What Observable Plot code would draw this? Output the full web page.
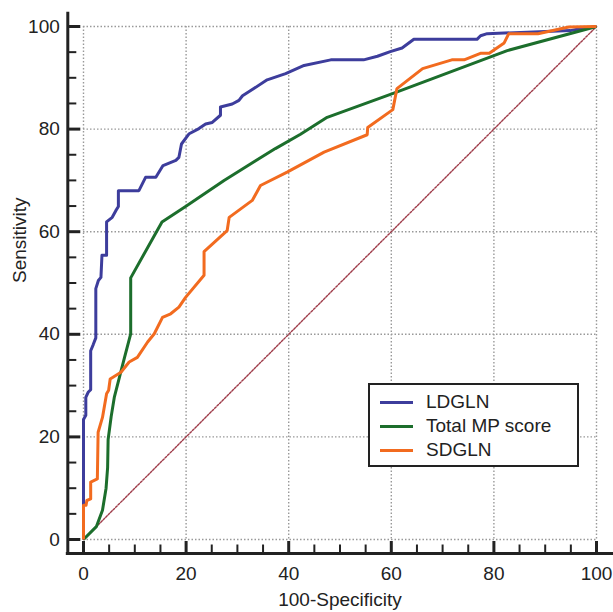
<!DOCTYPE html>
<html>
<head>
<meta charset="utf-8">
<script src="https://cdn.jsdelivr.net/npm/d3@7"></script>
<script src="https://cdn.jsdelivr.net/npm/@observablehq/plot@0.6"></script>
<style>
  html, body { margin: 0; padding: 0; background: #fff; }
  #wrap { position: relative; width: 613px; height: 612px; font-family: "Liberation Sans", Arial, sans-serif; color: #222; }
  #legend { position: absolute; left: 368px; top: 383px; width: 211px; height: 84px; box-sizing: border-box; border: 2px solid #222; background: #fff; }
  .row { position: absolute; left: 0; height: 24px; line-height: 24px; font-size: 19px; white-space: nowrap; }
  .sw { position: absolute; left: 10px; top: 10.5px; width: 33px; height: 3px; }
  .lbl { position: absolute; left: 56px; top: 0; }
</style>
</head>
<body>
<div id="wrap"><div id="chart"></div><div id="legend"></div></div>
<script>
// ---- data ----
const seriesNames = ["LDGLN", "Total MP score", "SDGLN"];
const seriesColors = ["#3d3d9c", "#1c6e2c", "#f26b1f"];

const ldglnX = [0,0,0,0.45,0.45,0.9,1.4,1.4,1.9,2.4,2.4,2.9,3.4,3.6,4.5,4.5,5.6,6.3,6.8,6.8,10.8,12.1,14.1,15.5,18,18.6,19.1,20.6,22.5,23.8,25.1,26.7,26.7,29,30.3,31,33.2,35.8,39.4,43,48.2,54.6,57.3,59.8,62.1,64.4,76.7,77.4,78.7,86.5,94.9,97,100];
const ldglnY = [0,7,23.4,24.2,27.7,28.7,29.2,36.8,38,39.3,48.9,50.5,51.1,55.4,55.4,61.9,62.8,64.1,64.9,68,68,70.6,70.6,72.9,73.9,74.5,77.1,79.1,80.1,81,81.3,82.7,84.3,84.9,85.6,86.5,87.9,89.6,90.8,92.4,93.5,93.5,94.2,95.1,95.8,97.5,97.5,98.2,98.6,98.9,99.2,99.6,100];

const totalX = [0,2.5,3.7,4.4,4.7,4.8,5.4,6,7,8,9.2,9.2,15.3,19.9,27.4,37.4,42.3,47.5,60.5,82.6,100];
const totalY = [0,2.5,5.7,10,14,19.5,24,27.7,31.6,35.5,40.1,51,61.9,64.9,70,76.2,79,82.3,87,95.3,100];

const sdglnX = [0,0,0.5,0.65,1.4,1.4,2.7,2.85,3.7,4.5,4.9,5.2,7.3,8.9,10.5,12.5,13.8,15.4,17,18.6,19.9,23.5,23.5,28,28.4,32.9,34.5,39.7,46.9,55.3,55.4,60.3,61.1,66.1,71.8,74.2,77.5,79.1,82,82.9,88.6,94.6,100];
const sdglnY = [0,6.7,6.7,7.6,7.9,11.2,11.8,20.9,23.8,28.4,29.1,31.3,32.6,34.6,35.5,38.5,40.1,43.3,44,45.3,47.2,51.5,56.1,60.2,62.8,66.1,69,71.6,75.5,78.9,80.3,83.8,87.9,91.8,93.5,93.5,94.8,94.8,96.8,98.6,98.6,99.9,100];

const diagonal = [0, 100];
const majorTicks = [0, 20, 40, 60, 80, 100];
const minorTicks = [5,10,15,25,30,35,45,50,55,65,70,75,85,90,95];
const xLabel = "100-Specificity";
const yLabel = "Sensitivity";

// ---- build rows ----
const toRows = (xs, ys, name) => xs.map((x, i) => ({x, y: ys[i], name}));
const rows = [
  ...toRows(ldglnX, ldglnY, seriesNames[0]),
  ...toRows(totalX, totalY, seriesNames[1]),
  ...toRows(sdglnX, sdglnY, seriesNames[2])
];
const color = Object.fromEntries(seriesNames.map((n, i) => [n, seriesColors[i]]));

const gridStyle = {stroke: "#999", strokeWidth: 1.4, strokeDasharray: "1.5,2"};

const chart = Plot.plot({
  width: 613,
  height: 612,
  marginLeft: 83,
  marginRight: 17,
  marginTop: 26,
  marginBottom: 73,
  style: {fontFamily: "Liberation Sans, Arial, sans-serif", fontSize: "19px", color: "#222", background: "transparent"},
  x: {domain: [0, 100], axis: null},
  y: {domain: [0, 100], axis: null},
  marks: [
    Plot.ruleX(majorTicks, gridStyle),
    Plot.ruleY(majorTicks, gridStyle),
    // diagonal reference
    Plot.line(diagonal.map(d => ({x: d, y: d})), {x: "x", y: "y", stroke: "#9e3a48", strokeWidth: 1.4, strokeDasharray: "2,1.5"}),
    // ROC curves
    ...seriesNames.map(n => Plot.line(rows.filter(r => r.name === n), {x: "x", y: "y", stroke: color[n], strokeWidth: 3, strokeLinejoin: "round", strokeLinecap: "butt"})),
    // axis lines (offset from plot area)
    Plot.ruleX([0], {y1: -3, y2: 102.8, dx: -15.7, stroke: "#222", strokeWidth: 3}),
    Plot.ruleY([0], {x1: -3.35, x2: 103.5, dy: 14, stroke: "#222", strokeWidth: 3}),
    // y axis ticks
    Plot.axisY(majorTicks, {anchor: "left", tickSize: 13, dx: -2.7, tickPadding: 8, strokeWidth: 3, label: null}),
    Plot.axisY(minorTicks, {anchor: "left", tickSize: 9, dx: -6.7, text: null, strokeWidth: 2, label: null}),
    // x axis ticks
    Plot.axisX(majorTicks, {anchor: "bottom", tickSize: 12, dy: 2, tickPadding: 13, strokeWidth: 3, label: null}),
    Plot.axisX(minorTicks, {anchor: "bottom", tickSize: 7.5, dy: 5.5, text: null, strokeWidth: 2, label: null}),
    // axis titles
    Plot.text([xLabel], {frameAnchor: "bottom", text: d => d, dy: 66, lineAnchor: "bottom", fill: "#222"}),
    Plot.text([yLabel], {frameAnchor: "left", text: d => d, dx: -64, rotate: -90, fill: "#222"})
  ]
});
document.getElementById("chart").appendChild(chart);

// ---- legend ----
const legend = document.getElementById("legend");
seriesNames.forEach((n, i) => {
  const row = document.createElement("div");
  row.className = "row";
  row.style.top = (5 + i * 24) + "px";
  const sw = document.createElement("div");
  sw.className = "sw";
  sw.style.background = seriesColors[i];
  const lb = document.createElement("div");
  lb.className = "lbl";
  lb.textContent = n;
  row.appendChild(sw);
  row.appendChild(lb);
  legend.appendChild(row);
});
</script>
</body>
</html>
